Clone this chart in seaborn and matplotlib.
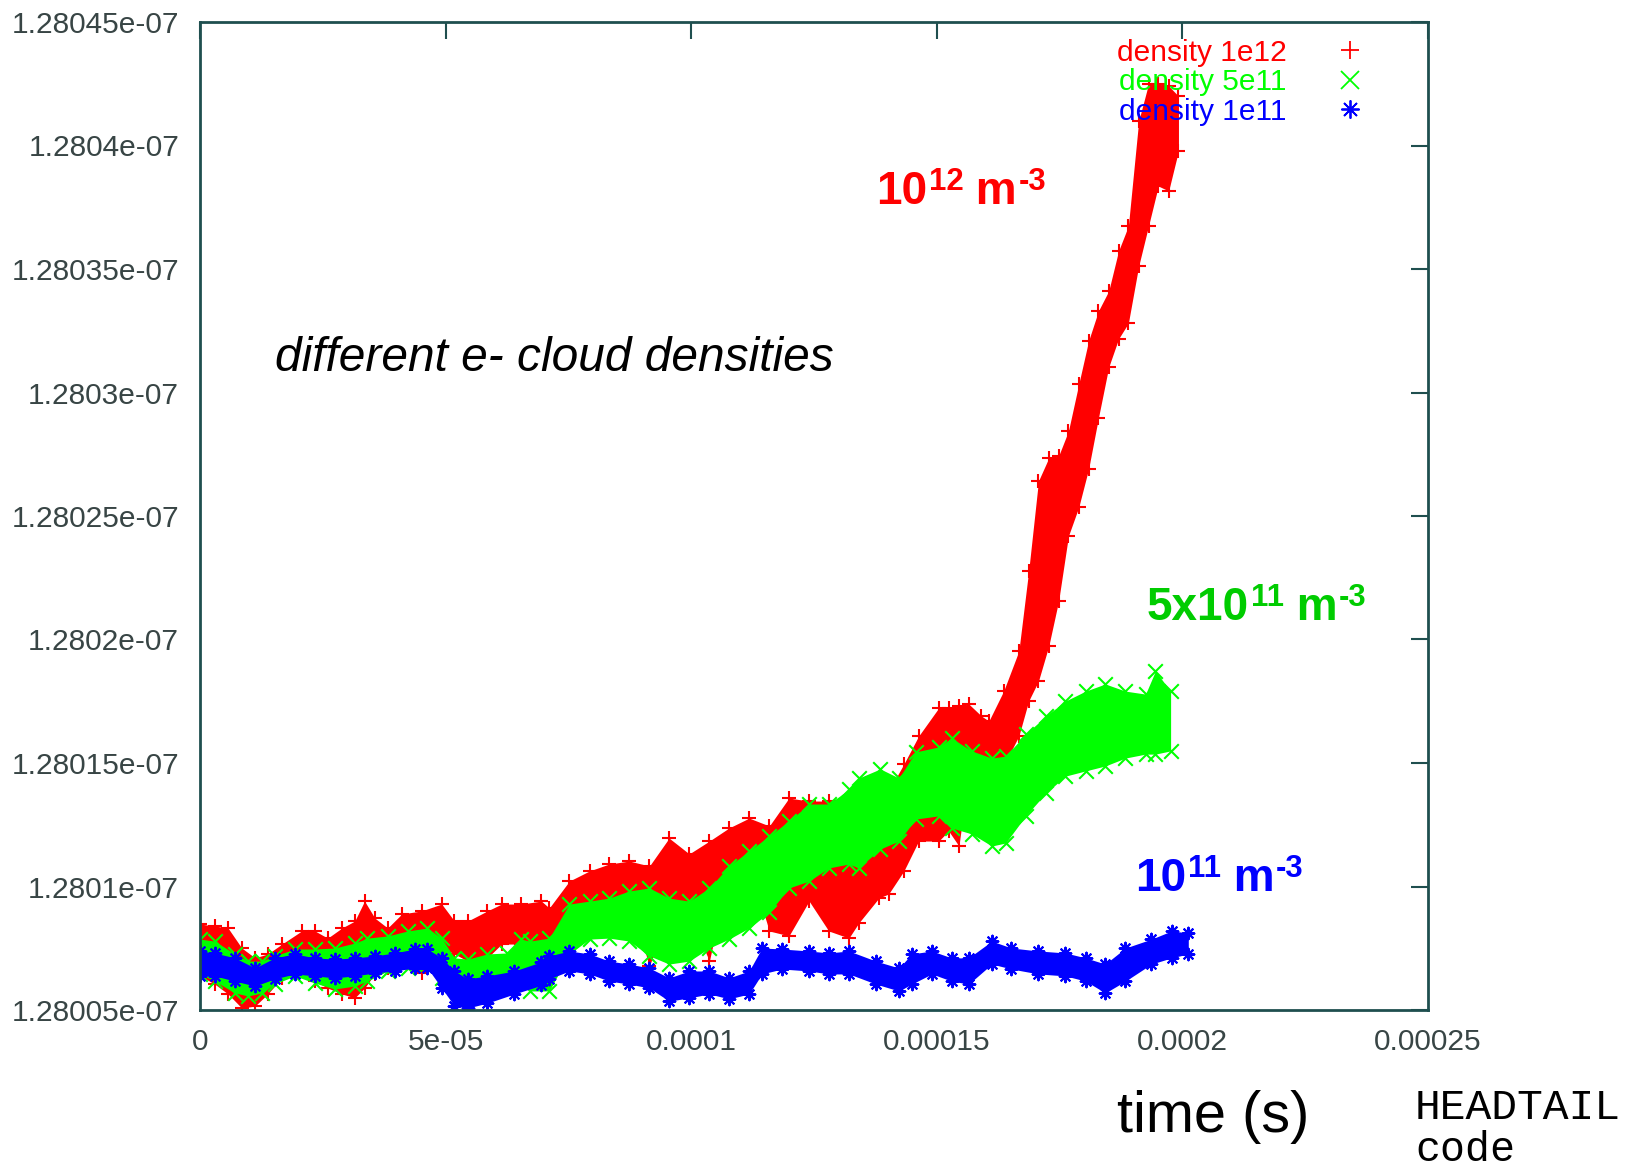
import numpy as np
import pandas as pd
import matplotlib
matplotlib.use("Agg")
import matplotlib.pyplot as plt
import seaborn as sns
from matplotlib.lines import Line2D
from matplotlib.ticker import FixedLocator, FuncFormatter

# Simulated emittance band versus time for three e-cloud densities.
# Time in microseconds; band edges (upper / lower) in pm above 1.28e-7 m.
EPS_BASE = 1.28e-7

red_t = [0, 3.0, 5.7, 8.5, 11.2, 13.8, 16.7, 20.7, 23.4, 26.0, 28.9, 31.5, 33.5, 35.6, 38.2,
         41.1, 45.1, 49.2, 51.8, 54.5, 58.5, 61.4, 65.4, 69.5, 71.1, 75.2, 79.3, 83.3, 87.4, 91.5,
         95.5, 99.6, 103.7, 107.7, 111.8, 115.9, 119.9, 124.0, 128.0, 132.1, 134.1, 138.2, 140.2,
         143.3, 146.3, 150.4, 152.4, 154.5, 156.5, 159.1, 160.6, 163.6, 166.7, 168.7, 170.7, 172.8,
         174.8, 176.8, 178.9, 180.9, 182.9, 185.0, 187.0, 189.0, 191.1, 193.1, 195.1, 197.2, 199.2]
red_hi = [8.48, 8.40, 8.32, 7.51, 7.11, 7.27, 7.67, 8.20, 8.20, 7.91, 8.32, 8.60, 9.41, 8.72, 8.32,
          8.89, 9.01, 9.29, 8.60, 8.60, 9.01, 9.29, 9.29, 9.41, 9.13, 10.22, 10.63, 10.91, 11.03, 10.83,
          11.96, 11.32, 11.84, 12.37, 12.77, 12.45, 13.58, 13.46, 13.46, 13.66, 13.46, 13.87, 13.87,
          14.96, 16.09, 17.23, 17.23, 17.31, 17.39, 16.90, 16.70, 17.91, 19.53, 22.77, 26.42, 27.35,
          27.43, 28.44, 30.34, 32.09, 33.30, 34.11, 35.73, 36.74, 40.99, 42.49, 42.49, 42.41, 42.00]
red_lo = [6.38, 6.05, 5.65, 5.08, 5.16, 5.65, 6.30, 6.58, 6.17, 5.89, 5.65, 5.49, 5.89, 6.46, 6.70,
          6.98, 6.50, 7.51, 7.27, 6.98, 7.11, 7.67, 7.67, 7.79, 7.67, 9.13, 9.01, 9.21, 9.41, 6.78,
          9.01, 8.89, 6.98, 10.63, 10.83, 8.20, 8.00, 9.41, 8.20, 7.91, 8.52, 9.53, 9.70,
          10.63, 11.84, 11.84, 12.25, 11.64, 14.55, 14.39, 14.39, 14.88, 16.09, 17.51, 18.32, 19.74,
          21.56, 24.19, 25.36, 26.90, 28.97, 31.03, 32.17, 32.81, 35.12, 36.74, 38.36, 38.16, 39.78]

green_t = [0, 3.0, 7.1, 9.8, 12.6, 15.2, 19.3, 23.4, 27.4, 31.5, 34.1, 38.2, 42.3, 46.3, 49.2,
           51.8, 54.5, 58.5, 62.6, 65.4, 67.1, 71.1, 75.2, 79.3, 83.3, 87.4, 91.5, 95.5, 99.6, 103.7,
           107.7, 111.8, 115.9, 119.9, 124.0, 128.0, 132.1, 134.1, 138.5, 142.3, 145.7, 150.4, 153.0,
           157.1, 161.2, 164.0, 168.1, 172.2, 176.2, 180.3, 184.3, 188.4, 192.5, 194.5, 197.6]
green_hi = [7.87, 7.79, 7.27, 6.98, 6.98, 7.19, 7.47, 7.47, 7.51, 7.71, 7.91, 8.00, 8.20, 8.32, 7.91,
            7.11, 7.06, 7.27, 7.31, 7.87, 7.79, 7.91, 9.29, 9.41, 9.53, 9.82, 9.94, 9.53, 9.41, 9.94,
            10.83, 11.44, 12.05, 12.65, 13.34, 13.34, 13.93, 14.39, 14.76, 14.39, 15.45, 15.65, 16.01,
            15.49, 15.20, 15.28, 16.17, 16.90, 17.51, 17.91, 18.20, 17.91, 17.79, 18.72, 17.91]
green_lo = [6.46, 6.17, 5.69, 5.57, 5.69, 6.05, 6.38, 6.09, 5.85, 5.97, 6.17, 6.58, 6.70, 6.86, 6.30,
            6.05, 5.85, 6.05, 6.17, 6.17, 5.77, 5.77, 7.27, 7.87, 7.91, 7.79, 7.19, 6.86, 6.98, 7.51,
            7.87, 8.32, 8.95, 9.94, 10.22, 10.75, 10.91, 10.75, 11.52, 11.84, 12.73, 12.86, 12.37,
            12.13, 11.64, 11.76, 12.86, 13.78, 14.47, 14.68, 14.88, 15.20, 15.36, 15.36, 15.49]

blue_t = [0, 3.0, 7.1, 11.2, 15.2, 19.3, 23.4, 27.4, 31.5, 35.6, 39.6, 43.7, 46.3, 49.2, 51.8,
          54.5, 58.5, 64.0, 69.5, 71.1, 75.2, 79.3, 83.3, 87.4, 91.5, 95.5, 99.6, 103.7, 107.7, 111.8,
          114.4, 118.5, 124.0, 128.0, 132.1, 137.6, 142.3, 144.9, 149.0, 153.0, 156.5, 161.2, 165.2,
          170.7, 176.2, 180.3, 184.3, 188.4, 193.7, 197.8, 201.2]
blue_hi = [7.39, 7.31, 7.11, 6.70, 7.11, 7.27, 7.11, 7.06, 7.11, 7.19, 7.31, 7.47, 7.47, 7.11, 6.58,
           6.26, 6.38, 6.58, 6.95, 7.19, 7.39, 7.27, 6.98, 6.86, 6.70, 6.30, 6.58, 6.58, 6.30, 6.58,
           7.51, 7.47, 7.39, 7.31, 7.39, 6.98, 6.70, 7.27, 7.39, 7.11, 7.11, 7.79, 7.51,
           7.39, 7.31, 7.11, 6.86, 7.51, 7.87, 8.20, 8.12]
blue_lo = [6.38, 6.38, 6.17, 5.97, 6.26, 6.46, 6.38, 6.30, 6.38, 6.50, 6.58, 6.70, 6.70, 5.89, 5.16,
           5.08, 5.28, 5.65, 6.00, 6.26, 6.58, 6.46, 6.17, 6.05, 5.89, 5.36, 5.49, 5.65, 5.45, 5.65,
           6.46, 6.66, 6.58, 6.46, 6.46, 6.05, 5.77, 6.05, 6.46, 6.17, 6.05, 6.86, 6.66,
           6.46, 6.38, 6.17, 5.69, 6.17, 6.86, 7.11, 7.27]

series_labels = ["density 1e12", "density 5e11", "density 1e11"]
series_colors = ["#ff0000", "#00ff00", "#0000ff"]
series_markers = ["+", "x", (8, 2, 0)]
marker_sizes = [110, 110, 70]

x_ticks = [0, 5e-5, 1e-4, 1.5e-4, 2e-4, 2.5e-4]
y_ticks = [1.28005e-7, 1.2801e-7, 1.28015e-7, 1.2802e-7, 1.28025e-7,
           1.2803e-7, 1.28035e-7, 1.2804e-7, 1.28045e-7]

sns.set_theme(style="white")
plt.rcParams["font.family"] = ["Liberation Sans", "DejaVu Sans"]

W, H = 1625, 1174
fig = plt.figure(figsize=(W / 100, H / 100), dpi=100)
ax = fig.add_axes([200 / W, 1 - 1010 / H, 1228 / W, 988 / H])


def band_frame(t_us, hi, lo):
    t = np.asarray(t_us, dtype=float) * 1e-6
    return pd.DataFrame({
        "time": np.concatenate([t, t]),
        "eps": EPS_BASE + np.concatenate([hi, lo]) * 1e-12,
    })


frames = [band_frame(red_t, red_hi, red_lo),
          band_frame(green_t, green_hi, green_lo),
          band_frame(blue_t, blue_hi, blue_lo)]

for df, color, marker, msize in zip(frames, series_colors, series_markers, marker_sizes):
    sns.lineplot(data=df, x="time", y="eps", estimator="mean", errorbar=("pi", 100),
                 color=color, linewidth=0, err_kws={"alpha": 1, "linewidth": 0}, ax=ax)
    sns.scatterplot(data=df, x="time", y="eps", marker=marker, s=msize, color=color,
                    linewidth=1.5, ax=ax, legend=False)

ax.set_xlim(0, 2.5e-4)
ax.set_ylim(1.28005e-7, 1.28045e-7)
ax.xaxis.set_major_locator(FixedLocator(x_ticks))
ax.yaxis.set_major_locator(FixedLocator(y_ticks))
fmt = FuncFormatter(lambda v, _: "%g" % v)
ax.xaxis.set_major_formatter(fmt)
ax.yaxis.set_major_formatter(fmt)
ax.set_xlabel("")
ax.set_ylabel("")

axis_color = "#1f4f4f"
for sp in ax.spines.values():
    sp.set_color(axis_color)
    sp.set_linewidth(2)
ax.tick_params(direction="in", length=12, width=1.5, top=True, right=True,
               color=axis_color, labelcolor="#384545", labelsize=21.5)
ax.tick_params(axis="x", pad=13)
ax.tick_params(axis="y", pad=15)

handles = [Line2D([], [], linestyle="none", marker=m, color=c, markersize=13, markeredgewidth=1.3)
           for m, c in zip(series_markers, series_colors)]
ax.legend(handles, series_labels, loc="upper right", bbox_to_anchor=(0.958, 0.995),
          frameon=False, markerfirst=False, fontsize=21.5, labelcolor=series_colors,
          handlelength=1.0, handletextpad=1.6, labelspacing=0.05, borderaxespad=0)


def density_label(x_px, y_px, mantissa, exponent, color, size=33):
    """Bold 'N x 10^e m^-3' label built from base text plus raised exponents."""
    base = fig.text(x_px / W, 1 - y_px / H, mantissa, fontsize=size, weight="bold",
                    color=color, ha="left", va="baseline")
    sup1 = ax.annotate(exponent, xy=(1, 1), xycoords=base, xytext=(1, 2),
                       textcoords="offset points", fontsize=size * 0.68, weight="bold",
                       color=color, ha="left", va="top", annotation_clip=False)
    unit = ax.annotate(" m", xy=(1, 0), xycoords=(sup1, base), fontsize=size,
                       weight="bold", color=color, ha="left", va="bottom",
                       annotation_clip=False)
    ax.annotate("-3", xy=(1, 1), xycoords=unit, xytext=(1, 2),
                textcoords="offset points", fontsize=size * 0.68, weight="bold",
                color=color, ha="left", va="top", annotation_clip=False)


fig.text(275 / W, 1 - 371 / H, "different e- cloud densities", fontsize=34.5,
         style="italic", color="black", ha="left", va="baseline")
density_label(876, 204, "10", "12", "#ff0000")
density_label(1147, 620, "5x10", "11", "#00cc00")
density_label(1135, 891, "10", "11", "#0000ff")

fig.text(1117 / W, 1 - 1132 / H, "time (s)", fontsize=41.5, color="black",
         ha="left", va="baseline")
fig.text(1415 / W, 1 - 1119 / H, "HEADTAIL", fontsize=31, color="black",
         family=["Liberation Mono", "DejaVu Sans Mono"], ha="left", va="baseline")
fig.text(1415 / W, 1 - 1161 / H, "code", fontsize=30, color="black",
         family=["Liberation Mono", "DejaVu Sans Mono"], ha="left", va="baseline")

fig.savefig("out.png", dpi=100, facecolor="white")
